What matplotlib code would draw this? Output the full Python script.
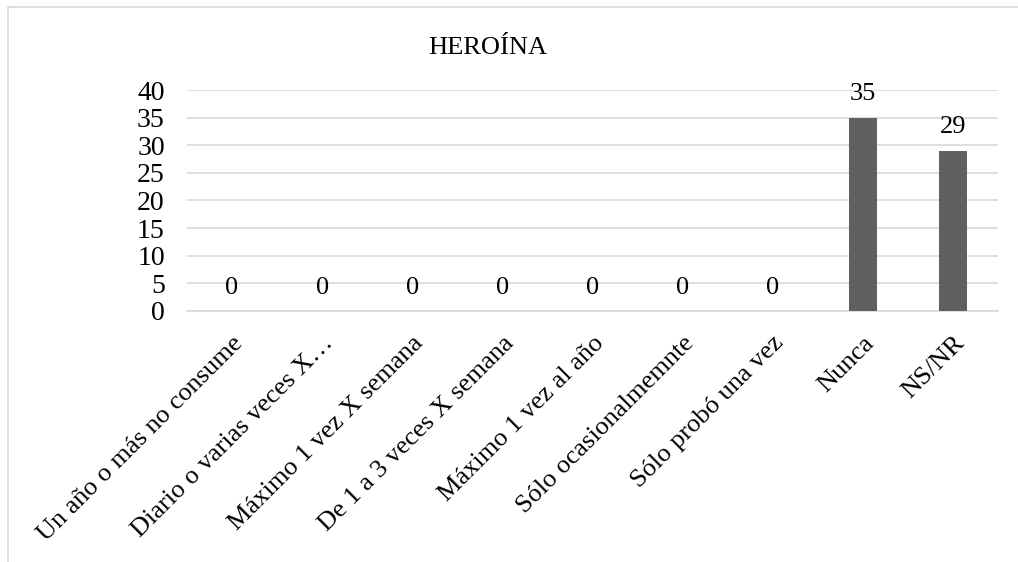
import matplotlib.pyplot as plt
from matplotlib.patches import Rectangle

plt.rcParams['font.family'] = ['Liberation Serif', 'DejaVu Serif']

# data
categories = ["Un año o más no consume", "Diario o varias veces X…",
              "Máximo 1 vez X semana", "De 1 a 3 veces X semana",
              "Máximo 1 vez al año", "Sólo ocasionalmemnte",
              "Sólo probó una vez", "Nunca", "NS/NR"]
values = [0, 0, 0, 0, 0, 0, 0, 35, 29]
y_ticks = [0, 5, 10, 15, 20, 25, 30, 35, 40]

fig = plt.figure(figsize=(10.18, 5.62), dpi=100)
ax = fig.add_axes([187 / 1018, 1 - 311 / 562, (998 - 187) / 1018, (311 - 90) / 562])

x = list(range(len(categories)))
ax.bar(x, values, width=0.31, color='#606060', zorder=3)

# value labels above each bar (Excel style)
for xi, v in zip(x, values):
    ax.annotate(str(v), (xi, v), xytext=(0, 9), textcoords='offset points',
                ha='center', va='bottom', fontsize=19, color='#000000')

ax.set_xlim(-0.5, len(categories) - 0.5)
ax.set_ylim(0, 40)
ax.set_yticks(y_ticks)
ax.set_yticklabels([str(t) for t in y_ticks], fontsize=20)
ax.yaxis.grid(True, color='#d9d9d9', linewidth=1.2, zorder=0)
ax.tick_params(axis='y', length=0, pad=16)
ax.tick_params(axis='x', length=0, pad=15)
ax.set_xticks(x)
ax.set_xticklabels(categories, rotation=45, ha='right', rotation_mode='anchor', fontsize=19)
for side in ['top', 'right', 'left']:
    ax.spines[side].set_visible(False)
ax.spines['bottom'].set_color('#d9d9d9')
ax.spines['bottom'].set_linewidth(1.2)

fig.text(488 / 1018, 1 - 48 / 562, "HEROÍNA", ha='center', va='center', fontsize=19)

# outer chart frame
fig.patches.append(Rectangle((8 / 1018, -0.1), 1.2, 1 - 7 / 562 + 0.1, transform=fig.transFigure,
                             fill=False, edgecolor='#d9d9d9', linewidth=1.2))

fig.savefig('out.png', dpi=100)
